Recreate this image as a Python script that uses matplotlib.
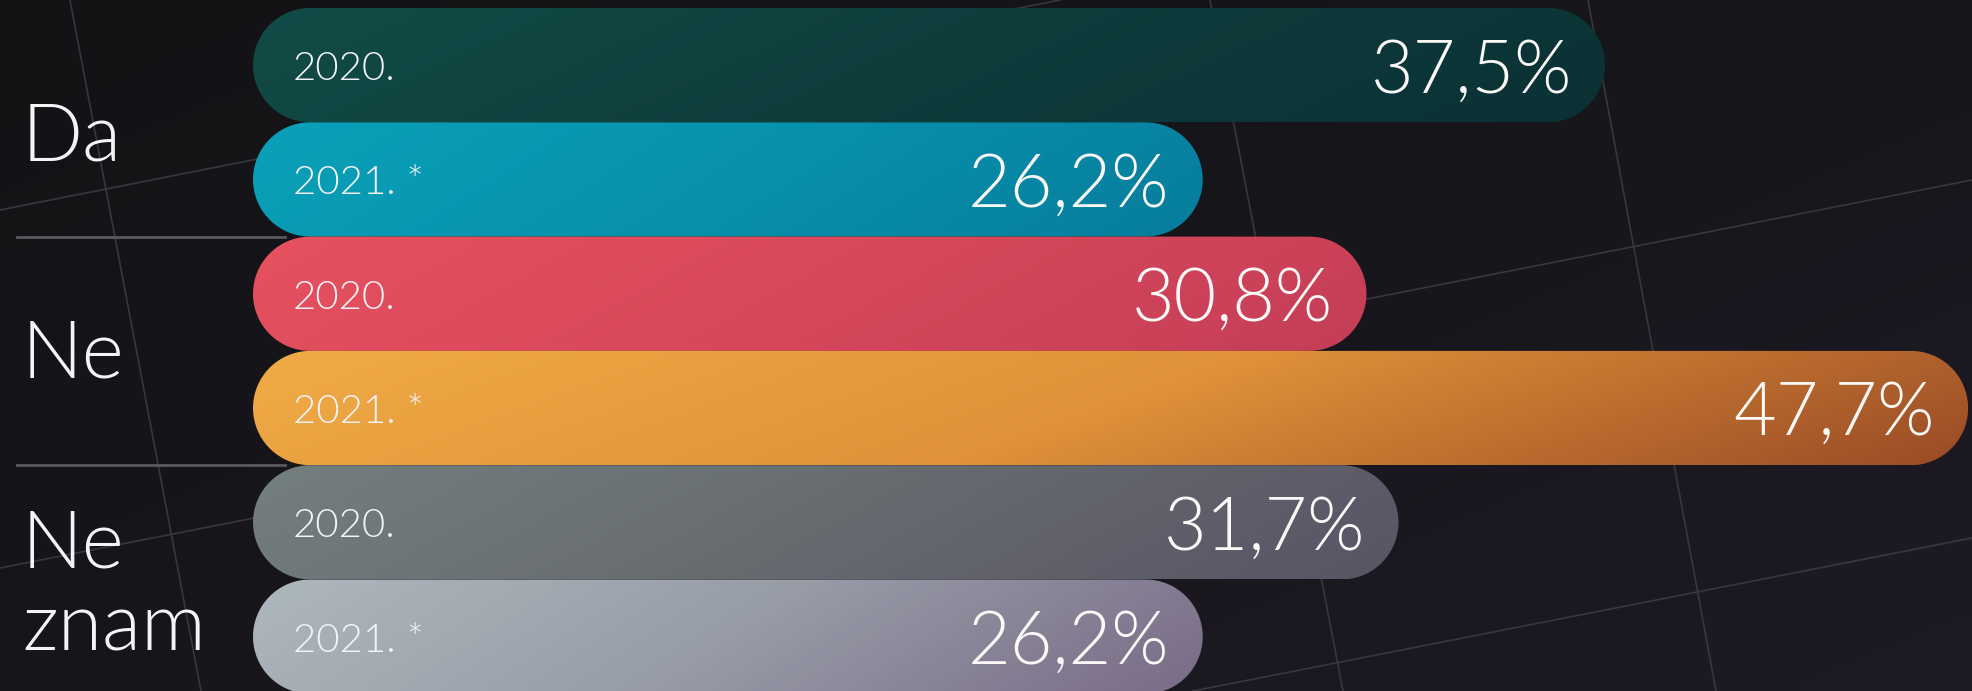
import numpy as np
import matplotlib.pyplot as plt
from matplotlib.patches import Polygon
from matplotlib.colors import LinearSegmentedColormap

plt.rcParams['font.family'] = ['Lato', 'DejaVu Sans']

# data
categories = ['Da', 'Ne', 'Ne\nznam']
years = ['2020.', '2021. *']
values = [[37.5, 26.2],
          [30.8, 47.7],
          [31.7, 26.2]]
value_labels = [['37,5%', '26,2%'],
                ['30,8%', '47,7%'],
                ['31,7%', '26,2%']]

# gradient colours per bar (left -> right)
bar_colors = [
    [['#124c47', '#0e3d3c', '#0b3135'], ['#0aa1b9', '#0891ad', '#077d9c']],
    [['#e6515f', '#d8485b', '#c43e57'], ['#f0ab46', '#df9238', '#9a4b26']],
    [['#747f7f', '#676b70', '#585465'], ['#adb8bd', '#979ca7', '#7a6b87']],
]
cat_nudge = [-16, -4, -7]   # px, vertical tweak of the group labels

W, H = 1972, 691
PX0, PXU = 270, 35.6      # pixel of 0 %, pixels per 1 %
TOP, ROW = 8, 114.3       # first bar top, bar height (px)
BAR_START = (253 - PX0) / PXU

fig = plt.figure(figsize=(W / 100, H / 100), dpi=100)

# background with faint perspective grid
bg = fig.add_axes([0, 0, 1, 1])
bg.set_axis_off()
yy, xx = np.mgrid[0:1:120j, 0:1:240j]
bg_cmap = LinearSegmentedColormap.from_list('bg', ['#131215', '#17161b', '#1e1a26'])
bg.imshow(0.55 * xx + 0.45 * yy, extent=(0, W, H, 0), cmap=bg_cmap,
          aspect='auto', interpolation='bicubic')
grid_lines = [(70, 0, 201, 691), (1210, 0, 1343, 691), (1588, 0, 1716, 691),
              (0, 210, 1060, 0), (0, 568, 1972, 180), (1193, 691, 1972, 538)]
for x0, y0, x1, y1 in grid_lines:
    bg.plot([x0, x1], [y0, y1], color='#38373e', lw=1.2)
bg.set_xlim(0, W)
bg.set_ylim(H, 0)

ax = fig.add_axes([0, 0, 1, 1])
ax.set_axis_off()
ax.patch.set_alpha(0)

rx = ROW / 2 / PXU   # cap radius in x units


def pill(x0, x1, y0):
    th = np.linspace(-np.pi / 2, np.pi / 2, 60)
    right = np.c_[x1 - rx + rx * np.cos(th), y0 + 0.5 + 0.5 * np.sin(th)]
    left = np.c_[x0 + rx - rx * np.cos(th[::-1]), y0 + 0.5 + 0.5 * np.sin(th[::-1])]
    return np.vstack([right, left])


# separators between groups
for g in range(1, len(categories)):
    ax.plot([(17 - PX0) / PXU, (285 - PX0) / PXU], [2 * g, 2 * g],
            color='#5a595f', lw=2, zorder=1)

gy, gx = np.mgrid[0:1:20j, 0:1:300j]
for g, cat in enumerate(categories):
    for k, year in enumerate(years):
        row = 2 * g + k
        v = values[g][k]
        poly = Polygon(pill(BAR_START, v, row), closed=True, fc='none', lw=0)
        ax.add_patch(poly)
        cmap = LinearSegmentedColormap.from_list('b', bar_colors[g][k])
        im = ax.imshow(0.85 * gx + 0.15 * gy, extent=(BAR_START, v, row + 1, row),
                       cmap=cmap, aspect='auto', interpolation='bicubic', zorder=2)
        im.set_clip_path(poly)

        ax.annotate(year, xy=(BAR_START, row + 0.5), xytext=(40, -15),
                    textcoords='offset pixels', ha='left', va='baseline',
                    fontsize=29, fontweight=300, color='#f4f3f5', zorder=3)
        ax.annotate(value_labels[g][k], xy=(v, row + 0.5), xytext=(-33, -27),
                    textcoords='offset pixels', ha='right', va='baseline',
                    fontsize=53, fontweight=300, color='#fbf8f8', zorder=3)

    ax.annotate(cat, xy=((22 - PX0) / PXU, 2 * g + 1), xytext=(0, cat_nudge[g]),
                textcoords='offset pixels', ha='left', va='center',
                fontsize=58, fontweight=300, color='#f4f3f5',
                linespacing=1.18, zorder=3)

ax.set_xlim(-PX0 / PXU, (W - PX0) / PXU)
ax.set_ylim((H - TOP) / ROW, -TOP / ROW)

fig.savefig('out.png', dpi=100, facecolor='#151418')
